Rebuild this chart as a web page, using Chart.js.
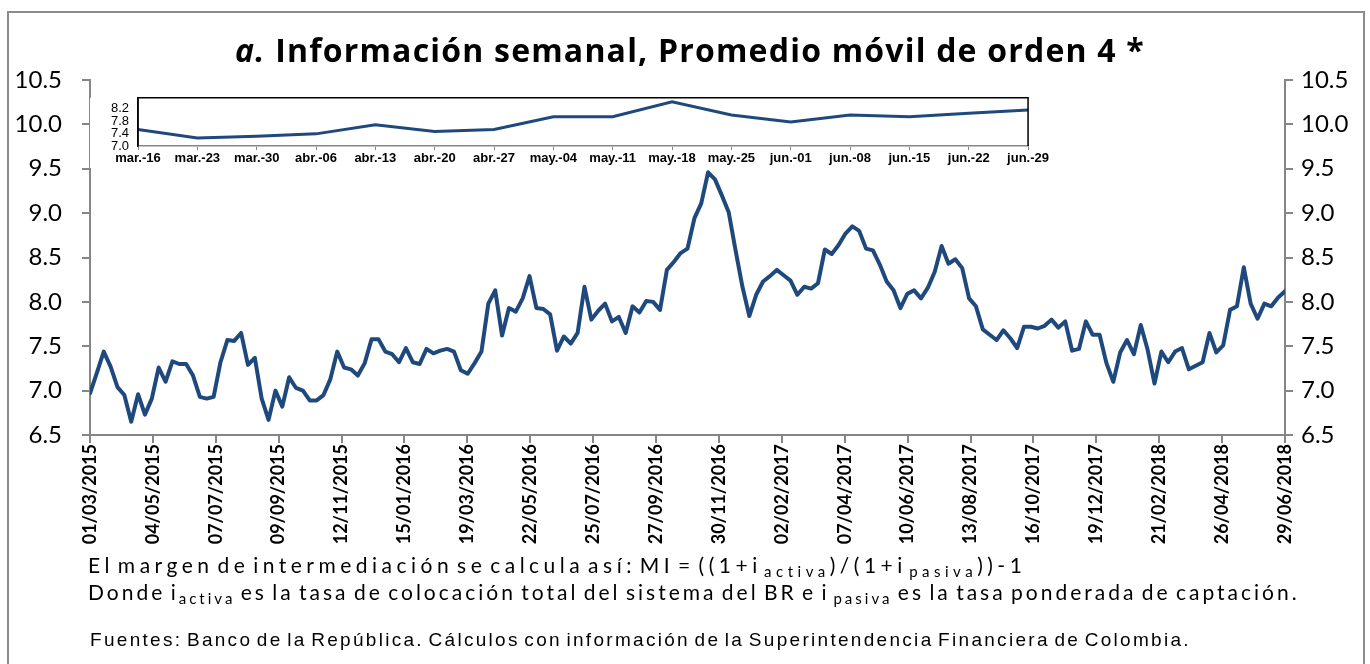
<!DOCTYPE html>
<html lang="es">
<head>
<meta charset="UTF-8">
<title>Margen de intermediación semanal</title>
<script src="https://cdn.jsdelivr.net/npm/chart.js"></script>
<style>
  body { margin: 0; background: #fff; width: 1370px; height: 664px; overflow: hidden; position: relative; }
  #marco { position: absolute; left: 7px; top: 11px; width: 1354px; height: 700px; border: 2px solid #8c8c8c; }
  #graficoPrincipal { position: absolute; left: 0; top: 0; }
  #graficoInset { position: absolute; left: 90px; top: 81px; background: transparent; }
  #titulo { position: absolute; left: 0; width: 1380px; top: 28px; text-align: center;
            font: bold 32px "Open Sans", sans-serif; letter-spacing: 1.2px; color: #000; }
  .nota { position: absolute; left: 88px; font: 21px Lato, sans-serif; color: #000; white-space: nowrap; line-height: 24px; }
  .nota sub { font-size: 15px; vertical-align: -4px; }
  .fuente { position: absolute; left: 90px; top: 629px; font: 19px "Liberation Sans", Arial, sans-serif;
            letter-spacing: 2.3px; word-spacing: -3px; color: #000; white-space: nowrap; }
</style>
</head>
<body>
<div id="marco"></div>
<canvas id="graficoPrincipal" width="1370" height="664"></canvas>
<canvas id="graficoInset" width="960" height="87"></canvas>
<div id="titulo"><i>a.</i> Información semanal, Promedio móvil de orden 4 *</div>
<div class="nota" style="top:553px; letter-spacing:4.5px; word-spacing:-6px">El margen de intermediación se calcula así: MI = ((1+i<sub> activa</sub>)/(1+i<sub> pasiva</sub>))-1</div>
<div class="nota" style="top:580px; letter-spacing:3px; word-spacing:-3px">Donde i<sub>activa</sub> es la tasa de colocación total del sistema del BR e i<sub> pasiva</sub> es la tasa ponderada de captación.</div>
<div class="fuente">Fuentes: Banco de la República. Cálculos con información de la Superintendencia Financiera de Colombia.</div>

<script>
// fechas que se rotulan en el eje x (cada 64 días)
const fechasEje = ['01/03/2015', '04/05/2015', '07/07/2015', '09/09/2015', '12/11/2015',
  '15/01/2016', '19/03/2016', '22/05/2016', '25/07/2016', '27/09/2016', '30/11/2016',
  '02/02/2017', '07/04/2017', '10/06/2017', '13/08/2017', '16/10/2017', '19/12/2017',
  '21/02/2018', '26/04/2018', '29/06/2018'];

// margen de intermediación semanal, promedio móvil de orden 4 (%)
const margenSemanal = [
  6.97, 7.20, 7.44, 7.27, 7.04, 6.95, 6.65, 6.96, 6.73, 6.91,
  7.26, 7.10, 7.33, 7.30, 7.30, 7.17, 6.93, 6.91, 6.93, 7.32,
  7.57, 7.56, 7.65, 7.29, 7.37, 6.91, 6.67, 7.00, 6.82, 7.15,
  7.03, 7.00, 6.89, 6.89, 6.95, 7.13, 7.44, 7.26, 7.24, 7.17,
  7.31, 7.58, 7.58, 7.44, 7.41, 7.32, 7.48, 7.32, 7.30, 7.47,
  7.42, 7.45, 7.47, 7.44, 7.23, 7.19, 7.31, 7.44,
  7.98, 8.13, 7.62, 7.93, 7.89, 8.04, 8.29, 7.93, 7.92, 7.86,
  7.45, 7.61, 7.53, 7.65, 8.17, 7.80, 7.90, 7.98, 7.78, 7.83,
  7.65, 7.95, 7.88, 8.01, 8.00, 7.91, 8.36, 8.45, 8.55, 8.60,
  8.94, 9.11, 9.46, 9.38, 9.20, 9.01, 8.58, 8.17, 7.84, 8.08,
  8.23, 8.29, 8.36, 8.30, 8.24, 8.08, 8.17, 8.15, 8.21, 8.59,
  8.54, 8.64, 8.77, 8.85, 8.80, 8.60, 8.58,
  8.42, 8.23, 8.13, 7.93, 8.09, 8.13, 8.04, 8.16, 8.34, 8.63,
  8.43, 8.48, 8.38, 8.04, 7.95, 7.69, 7.63, 7.57, 7.68, 7.59,
  7.48, 7.72, 7.72, 7.70, 7.73, 7.80, 7.71, 7.78, 7.45, 7.47,
  7.78, 7.63, 7.63, 7.31, 7.10, 7.43, 7.57, 7.41, 7.74, 7.46,
  7.08, 7.44, 7.32, 7.44, 7.48, 7.24, 7.28, 7.32, 7.65, 7.43,
  7.51, 7.91, 7.95, 8.39, 7.98, 7.81, 7.98, 7.95, 8.05, 8.12
];

// detalle de las últimas semanas
const semanasInset = ['mar.-16', 'mar.-23', 'mar.-30', 'abr.-06', 'abr.-13', 'abr.-20', 'abr.-27',
  'may.-04', 'may.-11', 'may.-18', 'may.-25', 'jun.-01', 'jun.-08', 'jun.-15', 'jun.-22', 'jun.-29'];
const margenInset = [7.53, 7.26, 7.31, 7.39, 7.68, 7.47, 7.53, 7.94, 7.94, 8.42, 8.00, 7.77, 8.00, 7.94, 8.05, 8.16];
const ticksInset = [7.0, 7.4, 7.8, 8.2];

const AZUL = '#1F497D';
const GRIS = '#868686';

function aDia(f) {
  const [d, m, a] = f.split('/').map(Number);
  return Date.UTC(a, m - 1, d) / 86400000;
}
const dia0 = aDia(fechasEje[0]);
const diasEje = fechasEje.map(f => aDia(f) - dia0);
const diaFinal = diasEje[diasEje.length - 1];
const puntos = margenSemanal.map((v, i) => ({ x: i * diaFinal / (margenSemanal.length - 1), y: v }));

const ejeY = (pos, ancho, pad) => ({
  position: pos, min: 6.5, max: 10.5,
  grid: { display: true, drawOnChartArea: false, drawTicks: true, tickLength: 8, color: GRIS, lineWidth: 2 },
  border: { display: true, color: GRIS, width: 2 },
  ticks: { stepSize: 0.5, padding: pad, color: '#000', font: { family: 'Lato', size: 24 },
           callback: v => v.toFixed(1) },
  afterFit: s => { s.width = ancho; }
});

new Chart(document.getElementById('graficoPrincipal'), {
  type: 'line',
  data: {
    datasets: [{
      data: puntos,
      borderColor: AZUL, borderWidth: 4, pointRadius: 0, tension: 0,
      borderJoinStyle: 'round', borderCapStyle: 'round', yAxisID: 'y'
    }]
  },
  options: {
    responsive: false, animation: false,
    layout: { padding: { top: 80, left: 0, right: 0, bottom: 0 } },
    plugins: { legend: { display: false }, tooltip: { enabled: false } },
    scales: {
      x: {
        type: 'linear', min: 0, max: diaFinal,
        afterBuildTicks: s => { s.ticks = diasEje.map(d => ({ value: d })); },
        grid: { display: true, drawOnChartArea: false, drawTicks: true, tickLength: 8, color: GRIS, lineWidth: 2 },
        border: { display: true, color: GRIS, width: 2 },
        ticks: { autoSkip: false, minRotation: 90, maxRotation: 90, padding: 1, color: '#000',
                 font: { family: 'Lato', size: 18, weight: 'bold' },
                 callback: (v, i) => fechasEje[i] },
        afterFit: s => { s.height = 229; }
      },
      y: ejeY('left', 90, 20),
      y2: ejeY('right', 85, 8)
    }
  }
});

// fondo blanco y recuadro negro del gráfico pequeño (arriba, izquierda y derecha)
const marcoInset = {
  id: 'marcoInset',
  beforeDraw(chart) {
    const { ctx, chartArea: a } = chart;
    ctx.save();
    ctx.fillStyle = '#fff';
    ctx.fillRect(0, a.top, chart.width, chart.height - a.top);
    ctx.restore();
  },
  afterDraw(chart) {
    const { ctx, chartArea: a } = chart;
    ctx.save();
    ctx.strokeStyle = '#000';
    ctx.lineWidth = 1.5;
    ctx.beginPath();
    ctx.moveTo(a.left, a.bottom);
    ctx.lineTo(a.left, a.top);
    ctx.lineTo(a.right, a.top);
    ctx.lineTo(a.right, a.bottom);
    ctx.stroke();
    ctx.restore();
  }
};

new Chart(document.getElementById('graficoInset'), {
  type: 'line',
  data: {
    labels: semanasInset,
    datasets: [{ data: margenInset, borderColor: AZUL, borderWidth: 3, pointRadius: 0, tension: 0 }]
  },
  options: {
    responsive: false, animation: false,
    layout: { padding: { top: 3, left: 0, right: 20, bottom: 0 } },
    plugins: { legend: { display: false }, tooltip: { enabled: false } },
    scales: {
      x: {
        offset: false,
        grid: { display: true, drawOnChartArea: false, drawTicks: true, tickLength: 4, color: GRIS },
        border: { display: true, color: GRIS, width: 1.5 },
        ticks: { autoSkip: false, maxRotation: 0, padding: 1, color: '#000',
                 font: { family: 'Liberation Sans', size: 13, weight: 'bold' } },
        afterFit: s => { s.height = 22; }
      },
      y: {
        min: 7.0, max: 8.55,
        afterBuildTicks: s => { s.ticks = ticksInset.map(v => ({ value: v })); },
        grid: { display: false, drawTicks: false },
        border: { display: true, color: '#000', width: 1.5 },
        ticks: { autoSkip: false, padding: 9, color: '#000', font: { family: 'Liberation Sans', size: 13 },
                 callback: v => v.toFixed(1) },
        afterFit: s => { s.width = 48; }
      }
    }
  },
  plugins: [marcoInset]
});
</script>
</body>
</html>
